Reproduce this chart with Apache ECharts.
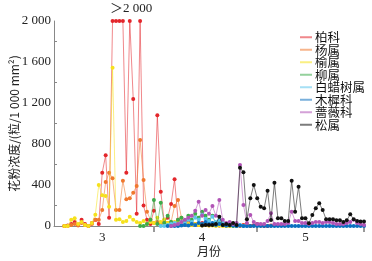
<!DOCTYPE html>
<html>
<head>
<meta charset="utf-8">
<script src="https://cdn.jsdelivr.net/npm/echarts@6/dist/echarts.min.js"></script>
<style>
  html, body { margin: 0; padding: 0; background: #fff; }
  #chart { width: 372px; height: 261px; }
</style>
</head>
<body>
<div id="chart"></div>
<script>
// days: 3-3 ... 6-1
const monthDays = [[3, 3, 31], [4, 1, 30], [5, 1, 31], [6, 1, 1]];
const days = [];
monthDays.forEach(function (m) {
  for (let d = m[1]; d <= m[2]; d++) days.push(m[0] + "-" + d);
});
const tickDays = ["4-1", "5-1", "6-1"];
const labelDays = { "3-17": "3", "4-15": "4", "5-15": "5" };

const names = ["柏科", "杨属", "榆属", "柳属", "白蜡树属", "木樨科", "蔷薇科", "松属"];
const colors = ["#e3262b", "#f0782e", "#f6e11c", "#3dab4a", "#5cc6ec", "#0b6fc0", "#b154b6", "#111111"];

const _ = null;
// 柏科 (values >2000 drawn at 2000)
const baike = [_, _, _, 0, 5, 20, 40, 10, 60, 20, 0, 30, 60, 20, 520, 690, 80, 2000, 2000, 2000,
  2000, 520, 2000, 1240, 120, 2000, 200, 60, 20, 150, 1080, 335, 40, 80, 215, 455, 60, 30, 20, 40,
  30, 20, 10, 30, 20, 10, 10, 10, 5, 10, 5, 5, 10, 5, 5, 10, 5, 0, 5, 20,
  5, 0, 0, 5, _, _, _, _, _, _, _, _, _, _, _, _, _, _, _, _,
  _, _, _, _, _, _, _, _, _, _, _];
const yangshu = [_, _, _, 0, 0, 10, 20, 5, 30, 10, 0, 20, 60, 60, 156, 430, 520, 465, 156, 156,
  442, 260, 270, 325, 390, 840, 450, 140, 60, 30, 40, 20, 60, 30, 40, 195, 254, 80, 40, 30,
  20, 20, 10, 20, 10, 5, 10, 5, 5, 5, 0, 5, 5, 10, 0, 5, 20, 0, _, _,
  _, _, _, _, _, _, _, _, _, _, _, _, _, _, _, _, _, _, _, _,
  _, _, _, _, _, _, _, _, _, _, _];
const yushu = [_, _, _, 0, 0, 60, 75, 20, 40, 10, 0, 30, 110, 400, 300, 293, 188, 1545, 60, 65,
  40, 50, 90, 60, 40, 30, 50, 20, 40, 30, 80, 40, 60, 30, 20, 40, 30, 20, 30, 20,
  10, 20, 10, 5, 10, 5, 5, 0, 5, 0, 0, 0, _, _, _, _, _, _, _, _,
  _, _, _, _, _, _, _, _, _, _, _, _, _, _, _, _, _, _, _, _,
  _, _, _, _, _, _, _, _, _, _, _];
const liushu = [_, _, _, _, _, _, _, _, _, _, _, _, _, _, _, _, _, _, _, _,
  _, _, _, _, _, 0, 0, 20, 60, 254, 20, 227, 30, 100, 40, 20, 60, 80, 50, 100,
  60, 120, 80, 140, 100, 60, 100, 20, 30, 10, 5, 5, 0, 0, _, _, _, _, _, _,
  _, _, _, _, _, _, _, _, _, _, _, _, _, _, _, _, _, _, _, _,
  _, _, _, _, _, _, _, _, _, _, _];
const bailashu = [_, _, _, _, _, _, _, _, _, _, _, _, _, _, _, _, _, _, _, _,
  _, _, _, _, _, _, _, _, _, _, _, 0, 0, 10, 20, 30, 20, 40, 30, 60,
  40, 80, 60, 110, 70, 50, 90, 40, 60, 30, 20, 30, 10, 5, 10, 0, 0, _, _, _,
  _, _, _, _, _, _, _, _, _, _, _, _, _, _, _, _, _, _, _, _,
  _, _, _, _, _, _, _, _, _, _, _];
const muxike = [_, _, _, _, _, _, _, _, _, _, _, _, _, _, _, _, _, _, _, _,
  _, _, _, _, _, _, _, _, _, _, _, _, _, 0, 0, 0, 0, 5, 10, 5,
  20, 10, 30, 20, 40, 20, 30, 10, 20, 10, 5, 10, 5, 0, 5, 0, 0, 0, 0, 0,
  0, 0, 0, 0, 0, 0, 0, 0, 0, 0, 0, 0, 0, 0, 0, 0, 0, 0, 0, 0,
  0, 0, 0, 0, 0, 0, 0, 0, 0, 0, 0];
const qiangweike = [_, _, _, _, _, _, _, _, _, _, _, _, _, _, _, _, _, _, _, _,
  _, _, _, _, _, _, _, _, _, _, _, _, _, _, 0, 10, 20, 40, 60, 80,
  100, 150, 237, 100, 156, 120, 195, 100, 254, 60, 30, 40, 20, 30, 595, 205, 30, 107, 40, 20,
  20, 20, 50, 124, 20, 20, 20, 20, 30, 140, 50, 50, 30, 30, 20, 30, 40, 40, 30, 40,
  40, 30, 20, 20, 20, 30, 40, 60, 30, 20, 10];
const songshu = [_, _, _, _, _, _, _, _, _, _, _, _, _, _, _, _, _, _, _, _,
  _, _, _, _, _, _, _, _, _, _, _, _, _, _, _, _, _, _, _, _,
  _, _, _, 5, 10, 10, 10, 20, 90, 10, 20, 10, 30, 10, 569, 524, 65, 270, 400, 270,
  188, 172, 344, 58, 422, 75, 75, 49, 49, 442, 140, 384, 75, 75, 26, 107, 172, 221, 156, 65,
  65, 65, 55, 55, 40, 55, 114, 65, 50, 45, 45];

const seriesData = [baike, yangshu, yushu, liushu, bailashu, muxike, qiangweike, songshu];

function setSeries() {
  let arr = [];
  names.forEach(function (name, i) {
    arr.push({
      name: name,
      type: "line",
      symbol: "circle",
      symbolSize: 4,
      showAllSymbol: true,
      itemStyle: { color: colors[i] },
      lineStyle: { width: 1, opacity: 0.55 },
      z: 2 + i,
      data: seriesData[i]
    });
  });
  return arr;
}

const serif = "'Liberation Serif', 'Noto Sans CJK SC', serif";

let option = {
  animation: false,
  graphic: [
    {
      type: "text",
      left: 110,
      top: 2,
      style: { text: "＞2 000", font: "13px " + serif, fill: "#222" }
    }
  ],
  legend: {
    orient: "vertical",
    left: 295,
    top: 26,
    icon: "rect",
    itemWidth: 12,
    itemHeight: 2,
    itemGap: 0,
    itemStyle: { opacity: 0.55 },
    textStyle: { fontFamily: "'Noto Sans CJK SC'", fontSize: 12.5, color: "#111", lineHeight: 12, padding: [0, 0, 0, -2] },
    data: names
  },
  grid: { left: 54, right: 8, top: 21, bottom: 35, outerBoundsMode: "none" },
  xAxis: {
    type: "category",
    boundaryGap: false,
    data: days,
    name: "月份",
    nameLocation: "middle",
    nameGap: 19,
    nameMoveOverlap: false,
    nameTextStyle: { fontFamily: "'Noto Sans CJK SC'", fontSize: 12, color: "#222" },
    axisLine: { lineStyle: { color: "#888", width: 1 } },
    axisTick: {
      inside: false,
      length: 6,
      lineStyle: { color: "#999", width: 2 },
      interval: function (index, value) { return tickDays.indexOf(value) >= 0; }
    },
    axisLabel: {
      interval: function (index, value) { return labelDays[value] !== undefined; },
      formatter: function (value) { return labelDays[value] || ""; },
      fontFamily: serif,
      fontSize: 13,
      color: "#222",
      margin: 5
    },
    splitLine: { show: false }
  },
  yAxis: {
    type: "value",
    min: 0,
    max: 2000,
    interval: 400,
    name: "花粉浓度/(粒/1 000 mm²)",
    nameLocation: "middle",
    nameGap: 34,
    nameRotate: 90,
    nameMoveOverlap: false,
    nameTextStyle: { fontFamily: "'Noto Sans CJK SC'", fontSize: 12, color: "#222" },
    axisLine: { show: true, lineStyle: { color: "#888" } },
    axisTick: { inside: true, length: 6, lineStyle: { color: "#333" } },
    minorTick: { show: true, splitNumber: 2, length: 3, lineStyle: { color: "#888" } },
    axisLabel: {
      fontFamily: serif,
      fontSize: 13,
      color: "#222",
      margin: 3,
      formatter: function (v) {
        return v >= 1000 ? Math.floor(v / 1000) + " " + String(v % 1000).padStart(3, "0") : String(v);
      }
    },
    splitLine: { show: false }
  },
  series: setSeries()
};

let myChart = echarts.init(document.getElementById("chart"));
myChart.setOption(option);
</script>
</body>
</html>
